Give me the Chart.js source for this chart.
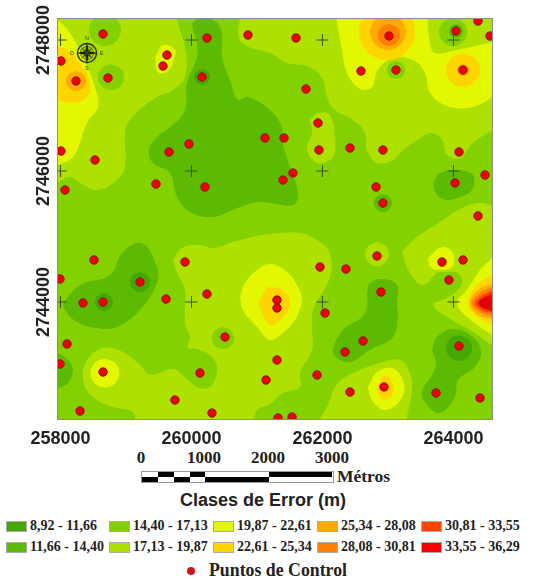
<!DOCTYPE html>
<html>
<head>
<meta charset="utf-8">
<title>Clases de Error</title>
<script src="https://cdn.jsdelivr.net/npm/chart.js@4/dist/chart.umd.js"></script>
<style>
    body { margin: 0; background: #fff; width: 538px; height: 580px; position: relative; overflow: hidden; }
    #map-chart { position: absolute; left: 0; top: 0; }
    .serif { position: absolute; font-family: "Liberation Serif", serif; font-weight: bold; color: #222; white-space: nowrap; }
    .scale-num { font-size: 17px; top: 448px; width: 50px; text-align: center; }
    .bar { position: absolute; height: 5px; background: #000; }
    #bar-box { position: absolute; left: 141px; top: 471px; width: 191px; height: 10px; border: 1px solid #999; }
    #title { position: absolute; left: 0; width: 526px; top: 490px; text-align: center; font: bold 18px "Liberation Sans", sans-serif; color: #222; }
    .swatch { position: absolute; width: 19px; height: 9px; border: 1px solid #aaa; }
    .class-label { font-size: 14px; line-height: 16px; }
    #control-dot { position: absolute; left: 187px; top: 567px; width: 8px; height: 8px; border-radius: 50%; background: #c8171e; }
    #compass { position: absolute; left: 67px; top: 33px; }
</style>
</head>
<body>
<canvas id="map-chart" width="538" height="445"></canvas>
<svg id="compass" width="40" height="40" viewBox="-20 -20 40 40">
    <circle r="9.5" fill="none" stroke="#2c3300" stroke-width="1.4"></circle>
    <circle r="6.5" fill="none" stroke="#2c3300" stroke-width="0.7"></circle>
    <polygon points="0,-11 1.8,-1.8 11,0 1.8,1.8 0,11 -1.8,1.8 -11,0 -1.8,-1.8" fill="#1c2000"></polygon>
    <polygon points="-6,-6 0,-1.5 6,-6 1.5,0 6,6 0,1.5 -6,6 -1.5,0" fill="#3a4200"></polygon>
    <text x="0" y="-13" font-size="5" text-anchor="middle" font-family="Liberation Sans" fill="#2c3300">N</text>
    <text x="0" y="17" font-size="5" text-anchor="middle" font-family="Liberation Sans" fill="#2c3300">S</text>
    <text x="13" y="2" font-size="5" font-family="Liberation Sans" fill="#2c3300">E</text>
    <text x="-17" y="2" font-size="5" font-family="Liberation Sans" fill="#2c3300">O</text>
</svg>
<div id="bar-box"></div>
<div id="title">Clases de Error (m)</div>
<div id="control-dot"></div>
<div class="serif" style="left:209px;top:560px;font-size:17.8px;">Puntos de Control</div>
<div class="serif" style="left:337px;top:466px;font-size:17.5px;">Métros</div>
<div id="legend"></div>
<script>
var xTicks = [258000, 260000, 262000, 264000];
var yTicks = [2744000, 2746000, 2748000];
var xLimits = [257962, 264589];
var yLimits = [2742213, 2748321];

var classLabels = ['8,92 - 11,66', '11,66 - 14,40', '14,40 - 17,13', '17,13 - 19,87', '19,87 - 22,61',
    '22,61 - 25,34', '25,34 - 28,08', '28,08 - 30,81', '30,81 - 33,55', '33,55 - 36,29'];
var classColors = ['#45a800', '#5cba00', '#84d100', '#aee000', '#e2f700',
    '#ffd500', '#ffaa00', '#ff8000', '#ff4400', '#f50000'];

var scaleLabels = ['0', '1000', '2000', '3000'];

// control points, easting and northing
var controlE = [258649, 260237, 260863, 258007, 258237, 258725, 259626, 259565, 260161, 258007, 258527, 258069, 259657,
    259962, 259458, 260206, 261123, 261596, 263016, 264039, 264375, 264558, 262588, 263123, 264146, 261749, 261932,
    261413, 261947, 262421, 262924, 264085, 261550, 261397, 262818, 264024, 264482, 262924, 264375, 258511, 257992,
    259901, 259214, 258343, 258649, 259611, 260237, 258099, 260512, 257992, 258649, 260130, 261138, 259748, 258298,
    260313, 261962, 262359, 262833, 263825, 264146, 263932, 261306, 261306, 262894, 262039, 262619, 262344, 264085,
    261306, 261917, 262940, 262421, 263734, 264406, 261321, 261535, 264482];
var controlN = [2748092, 2748031, 2748077, 2747680, 2747374, 2747420, 2747771, 2747603, 2747435, 2746305, 2746168, 2745710, 2746290,
    2746412, 2745801, 2745756, 2746504, 2748031, 2748061, 2748138, 2748290, 2748061, 2747527, 2747542, 2747542, 2747252, 2746733,
    2746504, 2746321, 2746351, 2746321, 2746290, 2745969, 2745862, 2745756, 2745817, 2745939, 2745511, 2745313, 2744641, 2744351,
    2744610, 2744305, 2743984, 2743999, 2744045, 2744122, 2743358, 2743465, 2743053, 2742931, 2742915, 2742808, 2742503, 2742335,
    2742304, 2744534, 2744503, 2744702, 2744610, 2744641, 2744335, 2744030, 2743908, 2744152, 2743831, 2743404, 2743236, 2743328,
    2743114, 2742885, 2742702, 2742625, 2742610, 2742534, 2742228, 2742243, 2743984];

// error zones, outlines in map coordinates, one list per painting pass
var zones1718 = [
    [[257840,2748458],[259779,2748458],[259779,2748306],[259901,2747893],[259901,2747435],[259718,2747237],[259473,2747130],[259260,2746977],[259031,2746733],[258985,2746519],[258985,2746061],[258863,2745862],[258572,2745710],[258298,2745817],[258145,2745908],[257962,2745832],[257840,2745786]],
    [[260787,2748458],[260710,2748107],[260817,2747924],[261199,2747802],[261459,2747649],[261810,2747588],[262008,2747389],[262069,2747130],[262192,2746931],[262466,2746779],[262650,2746580],[262680,2746320],[262833,2746122],[263077,2746168],[263230,2746320],[263489,2746504],[263673,2746580],[263825,2746473],[263902,2746244],[264100,2746198],[264299,2746427],[264589,2746626],[264711,2746702],[264711,2748458]],
    [[261810,2746779],[261932,2746885],[262115,2746855],[262192,2746473],[262161,2746214],[261932,2746122],[261764,2746320],[261840,2746580]],
    [[259718,2744641],[259855,2744824],[260130,2744870],[260329,2744824],[260634,2744916],[260939,2744992],[261199,2745038],[261657,2745053],[261962,2744916],[262115,2744748],[262115,2744381],[261856,2743877],[261840,2743618],[261840,2743267],[261657,2742915],[261657,2742702],[261397,2742610],[261199,2742442],[261000,2742350],[260894,2742121],[259183,2742121],[259107,2742320],[258802,2742396],[258496,2742549],[258343,2742808],[258404,2743114],[258649,2743297],[258954,2743236],[259214,2743037],[259367,2742885],[259718,2742976],[259901,2742854],[260084,2742702],[260283,2742702],[260390,2742961],[260313,2743160],[260084,2743282],[259947,2743297],[259977,2743465],[259901,2743679],[259901,2744183],[259779,2744442]],
    [[263215,2744763],[263383,2744946],[263795,2745221],[264131,2745435],[264375,2745511],[264589,2745481],[264711,2745481],[264711,2743267],[264589,2743343],[264299,2743541],[263978,2743725],[263688,2743954],[263902,2744061],[264070,2744183],[264131,2744305],[264070,2744442],[263871,2744458],[263749,2744442],[263535,2744259],[263337,2744442]],
    [[261902,2742121],[262069,2742396],[262237,2742763],[262573,2742961],[262879,2743068],[263184,2743114],[263337,2742915],[263367,2742656],[263291,2742228],[263291,2742121]],
    [[262833,2744915],[262961,2744860],[263016,2744732],[262961,2744604],[262833,2744549],[262705,2744604],[262650,2744732],[262705,2744860]]
];
var zones1114 = [
    [[260237,2748351],[260390,2748260],[260466,2748107],[260466,2747741],[260588,2747389],[260710,2747084],[260863,2747130],[261199,2746931],[261382,2746672],[261382,2746473],[261504,2746061],[261626,2745664],[261550,2745481],[261046,2745526],[260741,2745450],[260329,2745297],[259977,2745374],[259779,2745603],[259672,2745969],[259412,2746122],[259351,2746320],[259473,2746519],[259718,2746702],[259901,2746931],[259932,2747344],[260084,2747741],[260084,2747954],[260023,2748260]],
    [[258038,2743984],[258298,2744259],[258756,2744412],[258954,2744763],[259244,2744900],[259473,2744534],[259473,2744290],[259214,2743877],[258863,2743618],[258557,2743602],[258252,2743694],[258069,2743877]],
    [[262680,2744137],[262726,2744290],[262924,2744351],[263138,2744259],[263138,2743984],[263153,2743770],[263077,2743465],[262726,2743267],[262421,2743083],[262222,2743144],[262161,2743267],[262314,2743572],[262604,2743770],[262680,2743923]],
    [[263673,2743267],[263749,2743465],[263993,2743587],[264299,2743465],[264421,2743236],[264329,2743007],[264070,2742808],[264024,2742549],[263795,2742305],[263596,2742427],[263520,2742625],[263688,2742915],[263734,2743068]],
    [[263688,2745817],[263795,2745969],[264054,2746015],[264299,2745939],[264283,2745710],[264100,2745603],[263902,2745557],[263749,2745633]],
    [[262924,2745648],[263020,2745607],[263061,2745511],[263020,2745415],[262924,2745374],[262828,2745415],[262787,2745511],[262828,2745607]],
    [[257840,2743267],[257962,2743221],[258114,2743114],[258191,2742961],[258114,2742763],[257962,2742686],[257840,2742656]]
];
var zones0811 = [
    [[260161,2747557],[260246,2747520],[260283,2747435],[260246,2747350],[260161,2747313],[260076,2747350],[260039,2747435],[260076,2747520]],
    [[259214,2744458],[259321,2744412],[259367,2744305],[259321,2744198],[259214,2744152],[259107,2744198],[259061,2744305],[259107,2744412]],
    [[258664,2744136],[258760,2744095],[258801,2743999],[258760,2743903],[258664,2743862],[258568,2743903],[258527,2743999],[258568,2744095]],
    [[264085,2743496],[264224,2743436],[264284,2743297],[264224,2743158],[264085,2743098],[263946,2743158],[263886,2743297],[263946,2743436]]
];
var zones1922 = [
    [[257840,2748382],[257962,2748306],[258145,2748107],[258343,2747741],[258527,2747283],[258572,2746977],[258404,2746733],[258298,2746427],[258191,2746214],[257962,2746092],[257840,2746061]],
    [[259443,2747741],[259565,2747924],[259748,2747847],[259718,2747664],[259626,2747512],[259489,2747512]],
    [[262192,2748458],[262298,2747847],[262375,2747496],[262573,2747252],[262756,2747283],[262848,2747542],[263077,2747725],[263383,2747695],[263566,2747496],[263642,2747191],[263902,2746992],[264207,2746962],[264451,2747038],[264589,2747130],[264711,2747206],[264711,2748458]],
    [[258679,2743136],[258834,2743070],[258900,2742915],[258834,2742760],[258679,2742694],[258524,2742760],[258458,2742915],[258524,2743070]],
    [[260741,2744076],[260817,2744290],[261000,2744488],[261199,2744580],[261459,2744458],[261626,2744229],[261688,2744030],[261581,2743725],[261397,2743526],[261199,2743419],[261000,2743618],[260787,2743877]],
    [[263612,2744671],[263825,2744839],[263993,2744748],[263978,2744534],[263795,2744488],[263642,2744534]],
    [[264711,2744794],[264589,2744671],[264406,2744488],[264207,2744183],[264054,2743984],[264207,2743770],[264589,2743495],[264711,2743419]],
    [[262695,2742702],[262833,2742931],[263062,2742992],[263230,2742808],[263215,2742534],[262955,2742350],[262756,2742503]]
];
// patches that sit on top of the yellow zones
var patches1718 = [
    [[263596,2748458],[263642,2747954],[263718,2747802],[264054,2747847],[264589,2747970],[264711,2748000],[264711,2748458]]
];
var patches1417 = [
    [[258679,2748397],[258850,2748324],[258923,2748153],[258850,2747982],[258679,2747909],[258508,2747982],[258435,2748153],[258508,2748324]],
    [[258771,2747634],[258910,2747574],[258970,2747435],[258910,2747296],[258771,2747236],[258632,2747296],[258572,2747435],[258632,2747574]],
    [[260481,2743618],[260599,2743568],[260649,2743450],[260599,2743332],[260481,2743282],[260363,2743332],[260313,2743450],[260363,2743568]],
    [[263993,2748336],[264143,2748272],[264207,2748122],[264143,2747972],[263993,2747908],[263843,2747972],[263779,2748122],[263843,2748272]],
    [[263123,2747679],[263219,2747638],[263260,2747542],[263219,2747446],[263123,2747405],[263027,2747446],[262986,2747542],[263027,2747638]]
];
var patches1114 = [
    [[264039,2748245],[264114,2748213],[264146,2748138],[264114,2748063],[264039,2748031],[263964,2748063],[263932,2748138],[263964,2748213]]
];
var zones2225 = [
    [[257840,2747924],[257962,2747893],[258099,2747847],[258298,2747649],[258450,2747344],[258404,2747130],[258175,2747038],[257962,2747084],[257840,2747115]],
    [[262985,2748550],[263285,2748422],[263413,2748122],[263285,2747822],[262985,2747694],[262685,2747822],[262557,2748122],[262685,2748422]],
    [[264146,2747802],[264328,2747724],[264406,2747542],[264328,2747360],[264146,2747282],[263964,2747360],[263886,2747542],[263964,2747724]],
    [[261016,2743984],[261153,2744213],[261199,2744229],[261397,2744183],[261504,2743984],[261397,2743770],[261199,2743648]],
    [[264711,2744488],[264589,2744412],[264360,2744259],[264222,2743984],[264360,2743770],[264589,2743648],[264711,2743572]],
    [[262833,2742702],[262955,2742885],[263077,2742763],[263077,2742610],[262955,2742503],[262848,2742579]]
];
var zones2528 = [
    [[258237,2747527],[258344,2747481],[258390,2747374],[258344,2747267],[258237,2747221],[258130,2747267],[258084,2747374],[258130,2747481]],
    [[263001,2748397],[263193,2748314],[263276,2748122],[263193,2747930],[263001,2747847],[262809,2747930],[262726,2748122],[262809,2748314]],
    [[264146,2747634],[264210,2747606],[264238,2747542],[264210,2747478],[264146,2747450],[264082,2747478],[264054,2747542],[264082,2747606]],
    [[264711,2744320],[264589,2744274],[264375,2744183],[264253,2743984],[264375,2743801],[264589,2743740],[264711,2743694]]
];
var zones2830 = [
    [[263016,2748245],[263134,2748195],[263184,2748077],[263134,2747959],[263016,2747909],[262898,2747959],[262848,2748077],[262898,2748195]],
    [[264711,2744274],[264589,2744229],[264406,2744137],[264283,2743984],[264406,2743847],[264589,2743786],[264711,2743755]]
];
var zones3033 = [
    [[264711,2744213],[264589,2744167],[264421,2744091],[264329,2743984],[264421,2743877],[264589,2743831],[264711,2743801]]
];
var zones3336 = [
    [[264711,2744152],[264589,2744122],[264451,2744061],[264375,2743984],[264451,2743908],[264589,2743862],[264711,2743847]]
];

var basePatch = [[[xLimits[0], yLimits[0]], [xLimits[0], yLimits[1]], [xLimits[1], yLimits[1]], [xLimits[1], yLimits[0]]]];

// [class index, outlines], bottom layer first
var paintOrder = [
    [2, basePatch], [3, zones1718], [1, zones1114], [0, zones0811], [4, zones1922], [3, patches1718],
    [2, patches1417], [1, patches1114], [5, zones2225], [6, zones2528], [7, zones2830], [8, zones3033], [9, zones3336]
];

function buildDatasets() {
    var datasets = [];
    var layer = 0;
    paintOrder.forEach(function(pass) {
        pass[1].forEach(function(outline) {
            layer++;
            datasets.push({
                label: classLabels[pass[0]],
                data: outline.concat([outline[0]]),
                showLine: true,
                fill: 'shape',
                tension: 0.4,
                capBezierPoints: false,
                borderWidth: 0,
                borderColor: 'transparent',
                backgroundColor: classColors[pass[0]],
                pointRadius: 0,
                order: 1000 - layer
            });
        });
    });

    var crosses = [];
    xTicks.forEach(function(x) {
        yTicks.forEach(function(y) {
            crosses.push({x: x, y: y});
        });
    });
    datasets.push({
        label: 'Retícula',
        data: crosses,
        pointStyle: 'cross',
        pointRadius: 6,
        pointBorderColor: '#3f4f28',
        pointBorderWidth: 1,
        order: 2
    });

    datasets.push({
        label: 'Puntos de Control',
        data: controlE.map(function(e, i) { return {x: e, y: controlN[i]}; }),
        pointRadius: 4.2,
        pointBackgroundColor: '#f00000',
        pointBorderColor: '#8f1418',
        pointBorderWidth: 1,
        order: 1
    });
    return datasets;
}

var framePlugin = {
    id: 'frame',
    afterDatasetsDraw: function(chart) {
        var area = chart.chartArea;
        var ctx = chart.ctx;
        ctx.save();
        ctx.strokeStyle = '#8c8c8c';
        ctx.lineWidth = 1;
        ctx.strokeRect(area.left - 0.5, area.top - 0.5, area.right - area.left + 1, area.bottom - area.top + 1);
        ctx.restore();
    }
};

function useTicks(values) {
    return function(scale) {
        scale.ticks = values.map(function(v) { return {value: v}; });
    };
}

var tickFont = {family: '"Liberation Sans", sans-serif', size: 18, weight: 'bold'};

new Chart(document.getElementById('map-chart').getContext('2d'), {
    type: 'scatter',
    data: {datasets: buildDatasets()},
    options: {
        responsive: false,
        animation: false,
        layout: {padding: {top: 19, right: 46, left: 0, bottom: 0}},
        plugins: {legend: {display: false}, tooltip: {enabled: false}},
        scales: {
            x: {
                type: 'linear',
                min: xLimits[0],
                max: xLimits[1],
                afterBuildTicks: useTicks(xTicks),
                afterFit: function(scale) { scale.height = 26; },
                grid: {display: false, drawTicks: false},
                border: {display: false},
                ticks: {
                    font: tickFont,
                    color: '#222',
                    padding: 9,
                    maxRotation: 0,
                    autoSkip: false,
                    callback: function(value) { return String(value); }
                }
            },
            y: {
                type: 'linear',
                min: yLimits[0],
                max: yLimits[1],
                afterBuildTicks: useTicks(yTicks),
                afterFit: function(scale) { scale.width = 58; },
                grid: {display: false, drawTicks: false},
                border: {display: false},
                ticks: {
                    font: tickFont,
                    color: '#222',
                    padding: -21,
                    crossAlign: 'center',
                    minRotation: 90,
                    maxRotation: 90,
                    autoSkip: false,
                    callback: function(value) { return String(value); }
                }
            }
        }
    },
    plugins: [framePlugin]
});

// scale bar and class legend underneath the map
var scaleX = [141, 204, 268, 332];
scaleLabels.forEach(function(text, i) {
    var el = document.createElement('div');
    el.className = 'serif scale-num';
    el.style.left = (scaleX[i] - 25) + 'px';
    el.innerText = text;
    document.body.appendChild(el);
});

var barTop = [[158, 174], [190, 205], [269, 332]];
var barBottom = [[142, 158], [174, 190], [205, 269]];
function addBars(list, top) {
    list.forEach(function(seg) {
        var el = document.createElement('div');
        el.className = 'bar';
        el.style.left = seg[0] + 'px';
        el.style.width = (seg[1] - seg[0]) + 'px';
        el.style.top = top + 'px';
        document.body.appendChild(el);
    });
}
addBars(barTop, 472);
addBars(barBottom, 477);

var legendX = [6, 109, 213, 317, 421];
var legendY = [521, 542];
var legend = document.getElementById('legend');
classLabels.forEach(function(label, i) {
    var col = Math.floor(i / 2);
    var row = i % 2;
    var swatch = document.createElement('div');
    swatch.className = 'swatch';
    swatch.style.left = legendX[col] + 'px';
    swatch.style.top = legendY[row] + 'px';
    swatch.style.background = classColors[i];
    legend.appendChild(swatch);
    var text = document.createElement('div');
    text.className = 'serif class-label';
    text.style.left = (legendX[col] + 24) + 'px';
    text.style.top = (legendY[row] - 3) + 'px';
    text.innerText = label;
    legend.appendChild(text);
});
</script>
</body>
</html>
